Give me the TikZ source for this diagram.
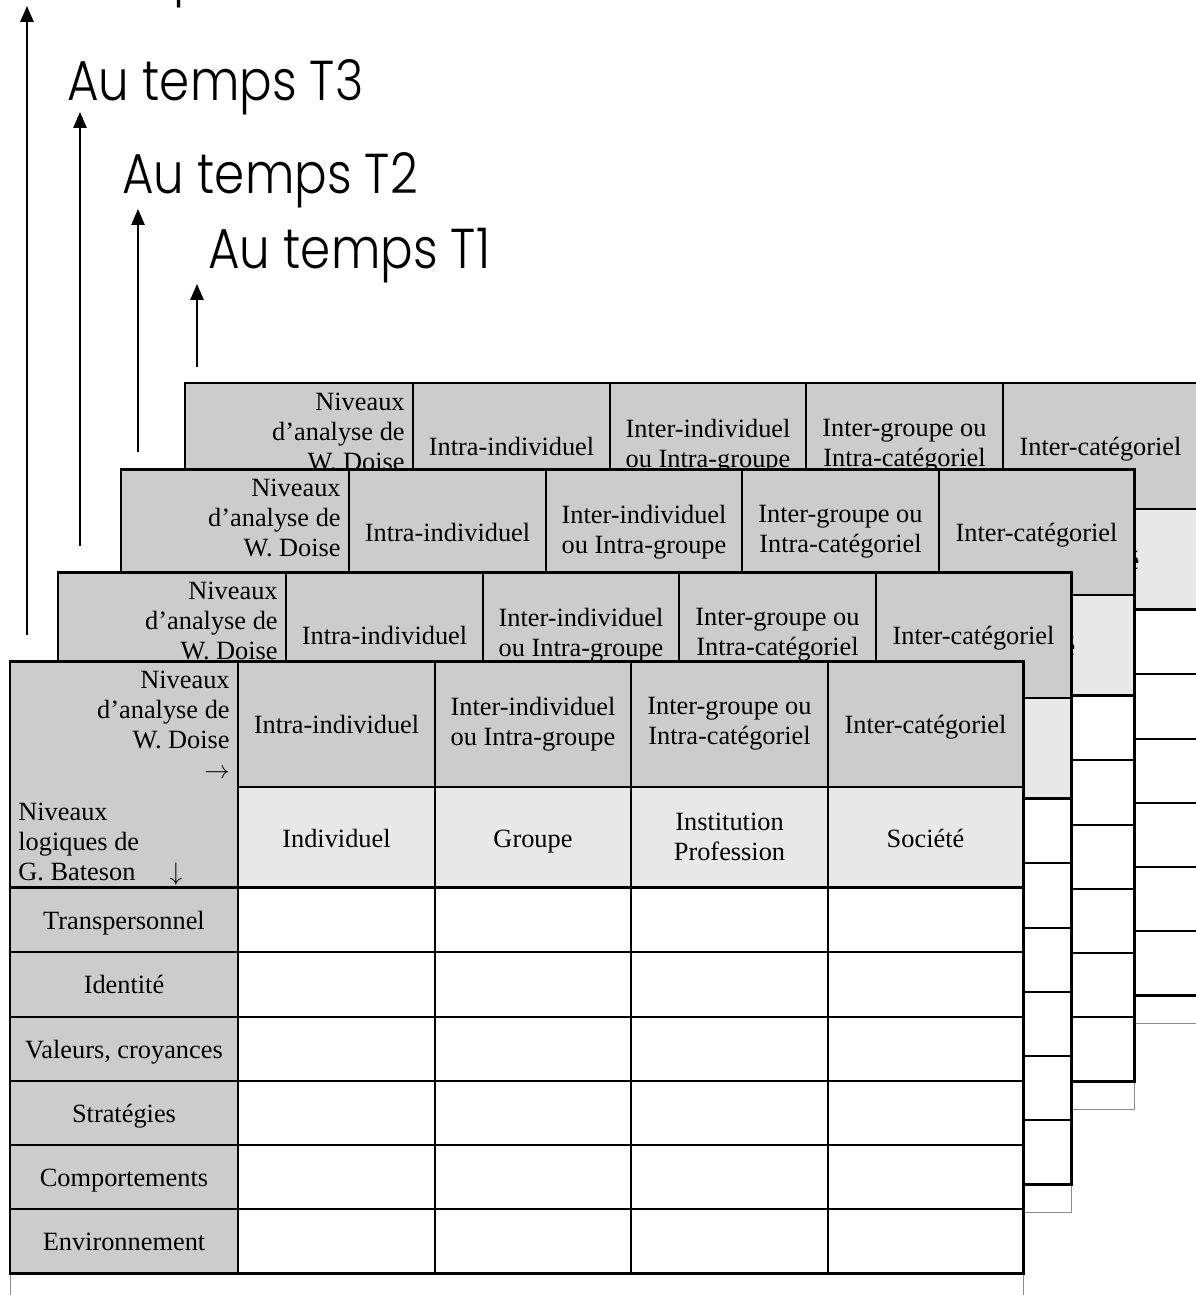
\documentclass[tikz,border=0pt]{standalone}
\usepackage{fontspec}
\setmainfont{Liberation Serif}
\newfontfamily\tempsfont{Poppins}[UprightFont={* Light},FakeStretch=0.86]
\usetikzlibrary{arrows.meta}
\definecolor{hdark}{gray}{0.80}
\definecolor{hlight}{gray}{0.91}

\begin{document}
\begin{tikzpicture}[x=0.02cm,y=-0.02cm,
  cellfont/.style={font=\fontsize{15}{17}\selectfont},
  cell/.style={cellfont,inner sep=0pt,align=center},
  lab/.style={cellfont,inner sep=0pt,anchor=base},
  thinline/.style={line width=0.8pt},
  thickline/.style={line width=1.7pt},
  timearrow/.style={line width=1pt,-{Triangle[width=7.5pt,length=9pt]}},
  temps/.style={font=\tempsfont\fontsize{32}{32}\selectfont,anchor=base west,inner sep=0pt}]
\useasboundingbox (0,0) rectangle (1196,1295);
\clip (0,0) rectangle (1196,1295);

\coordinate (p1) at (197,367); \coordinate (q1) at (197,284);
\coordinate (p2) at (138,452); \coordinate (q2) at (138,209);
\coordinate (p3) at (80,546);  \coordinate (q3) at (80,112);
\coordinate (p4) at (27,635);  \coordinate (q4) at (27,6);
\foreach \k in {1,...,4} \draw[timearrow] (p\k) -- (q\k);

\node[temps] (t1) at (208,268) {Au temps T1};
\node[temps] (t2) at (122,193) {Au temps T2};
\node[temps] (t3) at (67,100) {Au temps T3};
\node[temps] (t4) at (1,-7) {Au temps T4};

\foreach \i/\dx/\dy in {3/175/278,2/111/192,1/48/89,0/0/0}{
\begin{scope}[shift={(10+\dx,661-\dy)}]
\filldraw[draw=black!45,fill=white,line width=0.5pt] (0,0) rectangle (1013,640);
\fill[hdark] (0,0) rectangle (228,612) (228,0) rectangle (1013,126);
\fill[hlight] (228,126) rectangle (1013,226);
\draw[thinline] (228,126) -- (1013,126);
\foreach \y in {291,356,420,484,548} \draw[thinline] (0,\y) -- (1013,\y);
\foreach \x in {425,621,818} \draw[thinline] (\x,0) -- (\x,612);
\draw[thickline] (0,0) rectangle (1013,612) (228,0) -- (228,612) (0,226) -- (1013,226);

\node[cellfont,inner sep=0pt,align=right,anchor=north east] (d\i) at (220,10) {Niveaux\\d’analyse de\\W. Doise\\$\rightarrow$};
\node[cellfont,inner sep=0pt,align=left,anchor=north west] (b\i) at (8,142) {Niveaux\\logiques de\\G. Bateson};
\node[lab] (f\i) at (166,219) {$\downarrow$};

\node[lab] (h\i-1) at (326.5,72) {Intra-individuel};
\node[cell] (h\i-2) at (523,63) {Inter-individuel\\ou Intra-groupe};
\node[cell] (h\i-3) at (719.5,63) {Inter-groupe ou\\Intra-catégoriel};
\node[lab] (h\i-4) at (915.5,72) {Inter-catégoriel};

\node[lab] (g\i-1) at (326.5,186) {Individuel};
\node[lab] (g\i-2) at (523,186) {Groupe};
\node[cell] (g\i-3) at (719.5,176) {Institution\\Profession};
\node[lab] (g\i-4) at (915.5,186) {Société};

\foreach \txt [count=\r] in {Transpersonnel,Identité,{Valeurs, croyances},Stratégies,Comportements,Environnement}
  \node[lab] (r\i-\r) at (114,226+64.33*\r-22) {\txt};
\end{scope}}
\end{tikzpicture}
\end{document}
